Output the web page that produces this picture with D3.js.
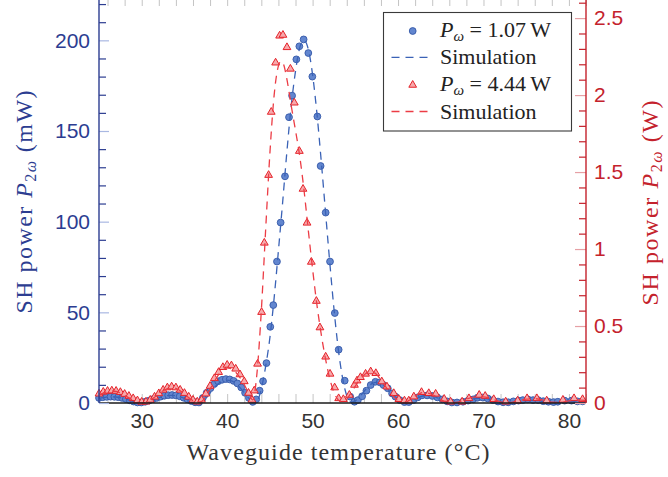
<!DOCTYPE html>
<html><head><meta charset="utf-8">
<script src="https://cdn.jsdelivr.net/npm/d3@7"></script>
<style>
html,body{margin:0;padding:0;background:#fff;}
svg{display:block;}
</style></head><body>
<svg id="chart" width="668" height="477"></svg>
<script>
// ---------- DATA ----------
// Measured SH power, P_omega = 1.07 W (left axis, mW)
const blueT = [25.0,25.45,25.9,26.35,26.8,27.25,27.7,28.15,28.6,29.05,29.5,29.95,30.4,30.85,31.3,31.75,32.2,32.65,33.1,33.55,34.0,34.45,34.9,35.35,35.8,36.25,36.7,37.15,37.6,38.05,38.5,38.95,39.4,39.85,40.3,40.75,41.2,41.65,42.1,42.55,43.0,43.4,43.8,44.2,44.6,45.05,45.4,45.83,46.26,46.77,47.24,47.6,48.1,48.45,48.95,49.5,49.97,50.56,50.94,51.53,52.04,52.6,53.05,53.76,54.4,54.9,55.3,55.8,56.3,56.8,57.35,57.86,58.3,58.8,59.3,59.7,60.2,60.75,61.26,61.8,62.3,62.8,63.4,64.0,64.6,65.2,65.75,66.3,66.9,67.6,68.2,68.8,69.3,69.9,70.5,71.1,71.7,72.3,72.9,73.5,74.1,74.6,75.2,75.8,76.4,77.0,77.6,78.2,78.7,79.5,80.3,81.0,81.6];
const blueP = [2.8,3.2,3.4,3.5,3.4,3.2,2.8,2.2,1.5,0.8,0.3,0.3,0.7,1.3,2.1,2.8,3.5,4.0,4.3,4.4,4.2,3.7,2.9,2.0,1.1,0.4,0.3,2.8,5.6,8.2,10.5,12.0,12.8,13.2,13.0,12.2,10.8,8.6,5.6,2.8,0.6,2.0,6.8,12.0,22.0,42.0,54.0,78.0,99.5,125.0,157.6,169.5,189.5,196.7,200.5,193.0,180.0,158.0,130.7,105.0,78.0,49.6,29.4,12.3,3.5,0.7,1.6,3.7,6.8,9.9,11.7,11.4,9.9,8.1,5.3,3.5,1.6,0.5,0.5,1.6,3.1,4.2,4.2,3.9,3.1,2.0,0.9,0.3,0.3,0.7,1.3,2.0,2.9,3.0,2.5,1.6,0.8,0.4,0.4,0.9,1.3,1.6,2.0,1.6,1.6,1.0,0.7,0.5,0.7,1.3,1.3,0.9,0.9];

// Measured SH power, P_omega = 4.44 W (right axis, W)
const redT = [25.0,25.5,26.0,26.5,27.0,27.5,28.0,28.5,29.0,29.5,30.0,30.5,31.0,31.5,32.0,32.5,33.0,33.5,34.0,34.5,35.0,35.5,36.0,36.5,37.0,37.5,38.0,38.5,39.0,39.5,40.0,40.5,41.0,41.5,42.0,42.5,42.9,43.17,43.56,44.03,44.35,44.85,45.16,45.67,46.14,46.53,47.0,47.4,47.86,48.45,48.88,49.35,49.85,50.44,50.86,51.53,52.04,52.58,53.05,53.6,54.3,54.9,55.2,55.6,56.2,56.8,57.4,58.1,58.7,59.5,60.1,60.75,61.26,61.85,62.75,63.6,64.4,65.4,66.15,67.5,68.3,69.5,70.2,71.2,72.6,74.0,75.1,76.25,77.4,79.3,80.6,81.6];
const redP = [0.06,0.072,0.078,0.08,0.078,0.07,0.058,0.045,0.03,0.016,0.007,0.008,0.02,0.04,0.062,0.085,0.1,0.106,0.1,0.085,0.064,0.04,0.02,0.008,0.02,0.06,0.11,0.16,0.2,0.232,0.247,0.243,0.222,0.185,0.14,0.065,0.02,0.08,0.254,0.59,1.04,1.48,1.89,2.21,2.385,2.39,2.31,2.17,1.95,1.636,1.39,1.17,0.916,0.662,0.49,0.30,0.189,0.10,0.03,0.024,0.052,0.117,0.145,0.167,0.189,0.204,0.193,0.139,0.106,0.063,0.024,0.015,0.015,0.041,0.07,0.063,0.059,0.026,0.008,0.008,0.03,0.052,0.045,0.024,0.008,0.015,0.03,0.03,0.015,0.02,0.03,0.024];

// Simulation, P_omega = 1.07 W (mW)
const simBlueT = [25,25.5,26,26.5,27,27.5,28,28.5,29,29.5,30,30.5,31,31.5,32,32.5,33,33.5,34,34.5,35,35.5,36,36.5,37,37.5,38,38.5,39,39.5,40,40.5,41,41.5,42,42.5,43,43.5,44,44.5,45,45.5,46,46.5,47,47.5,48,48.5,49,49.5,50,50.5,51,51.5,52,52.5,53,53.5,54,54.5,55,55.5,56,56.5,57,57.5,58,58.5,59,59.5,60,60.5,61,61.5,62,62.5,63,63.5,64,64.5,65,65.5,66,66.5,67,68,69,70,71,72,73,74,75,76,77,78,79,80,81,82];
const simBlueP = [2.5,3.0,3.3,3.4,3.3,2.9,2.3,1.6,0.9,0.3,0.05,0.3,1.0,1.9,2.8,3.6,4.1,4.2,4.0,3.4,2.6,1.6,0.7,0.1,0.5,2.5,5.5,8.5,10.8,12.2,12.6,12.2,10.8,8.5,5.6,2.8,0.7,1.2,8,20,36,58,84,111,139,164,183,196,200,195,181,160,134,106,78,52,30,14,4,0.5,1.2,3.5,6.3,9.0,10.8,11.4,10.8,9.0,6.6,4.2,2.1,0.6,0.2,0.8,2.0,3.2,4.0,4.2,3.9,3.1,2.1,1.1,0.4,0.1,0.2,1.2,2.4,2.6,1.7,0.6,0.2,0.9,1.6,1.5,0.9,0.3,0.5,1.0,1.1,0.8];

// Simulation, P_omega = 4.44 W (W)
const simRedT = [25,25.5,26,26.5,27,27.5,28,28.5,29,29.5,30,30.5,31,31.5,32,32.5,33,33.5,34,34.5,35,35.5,36,36.5,37,37.5,38,38.5,39,39.5,40,40.5,41,41.5,42,42.5,43,43.5,44,44.5,45,45.5,46,46.3,46.6,47,47.5,48,48.5,49,49.5,50,50.5,51,51.5,52,52.5,53,53.5,54,54.5,55,55.5,56,56.5,57,57.5,58,58.5,59,59.5,60,60.5,61,61.5,62,62.5,63,63.5,64,64.5,65,65.5,66,67,68,69,70,71,72,73,74,75,76,77,78,79,80,81,82];
const simRedP = [0.05,0.065,0.075,0.078,0.075,0.065,0.05,0.033,0.018,0.006,0.001,0.005,0.018,0.038,0.06,0.08,0.094,0.1,0.095,0.08,0.058,0.035,0.015,0.003,0.01,0.04,0.09,0.14,0.185,0.215,0.228,0.222,0.2,0.165,0.12,0.065,0.02,0.2,0.6,1.12,1.62,2.0,2.19,2.22,2.2,2.1,1.93,1.77,1.6,1.38,1.12,0.87,0.64,0.45,0.29,0.16,0.07,0.02,0.005,0.025,0.065,0.11,0.15,0.18,0.2,0.2,0.185,0.15,0.11,0.07,0.04,0.015,0.003,0.008,0.025,0.045,0.06,0.068,0.065,0.055,0.04,0.022,0.008,0.002,0.006,0.025,0.04,0.04,0.025,0.008,0.002,0.012,0.025,0.028,0.018,0.005,0.004,0.014,0.02,0.016];

// Tick labels
const xTickLabels = [30,40,50,60,70,80];
const yLTickLabels = [0,50,100,150,200];
const yRTickLabels = [0,0.5,1,1.5,2,2.5];
const legendLabels = ["1.07", "Simulation", "4.44", "Simulation"];

// ---------- STYLE ----------
const C = {
  blueFill:"#6286cf", blueStroke:"#3458a8", blueLine:"#3a62b6", blueAxis:"#2c3d91", blueLight:"#a9b8e2",
  redFill:"#f7a9ac", redStroke:"#e52229", redLine:"#ec3c45", redAxis:"#c4222c", redLight:"#e6a0a5",
  grey:"#c4c4c4", text:"#333333"
};
const sansF = "'Liberation Sans', Arial, sans-serif";
const serifF = "'Liberation Serif', 'Times New Roman', serif";

const svg = d3.select("#chart");
const x = d3.scaleLinear().domain([25,82]).range([99,586]);
const yL = d3.scaleLinear().domain([0,225]).range([403,-5]);
const yR = d3.scaleLinear().domain([0,2.65]).range([403,-5]);

svg.append("defs").append("clipPath").attr("id","clip")
  .append("rect").attr("x",99).attr("y",-10).attr("width",487).attr("height",430);

// grey x ticks (bottom, inward) and top ticks
const minorX = d3.range(26,83,2);
const gB = svg.append("g").attr("transform","translate(0,403)")
  .call(d3.axisBottom(x).tickValues(minorX).tickSize(-9).tickFormat(""));
gB.select(".domain").remove();
gB.selectAll("line").attr("stroke",C.grey).attr("stroke-width",1);
const gT = svg.append("g").attr("transform","translate(0,-3)")
  .call(d3.axisTop(x).tickValues(minorX).tickSize(-9).tickFormat(""));
gT.select(".domain").remove();
gT.selectAll("line").attr("stroke",C.grey).attr("stroke-width",1);

// data layer
const plot = svg.append("g");
// blue points
plot.append("g").selectAll("circle").data(blueT.map((t,i)=>[t,blueP[i]])).join("circle")
  .attr("cx",d=>x(d[0])).attr("cy",d=>yL(d[1])).attr("r",3.4)
  .attr("fill",C.blueFill).attr("stroke",C.blueStroke).attr("stroke-width",0.9);
// blue simulation
const lineB = d3.line().x(d=>x(d[0])).y(d=>yL(d[1])).curve(d3.curveMonotoneX);
plot.append("path").datum(simBlueT.map((t,i)=>[t,simBlueP[i]]))
  .attr("d",lineB).attr("fill","none").attr("stroke",C.blueLine)
  .attr("stroke-width",1.3).attr("stroke-dasharray","8,6").attr("clip-path","url(#clip)");
// red points
const tri = d3.symbol().type(d3.symbolTriangle).size(26);
plot.append("g").selectAll("path").data(redT.map((t,i)=>[t,redP[i]])).join("path")
  .attr("d",tri).attr("transform",d=>`translate(${x(d[0])},${yR(d[1])})`)
  .attr("fill",C.redFill).attr("stroke",C.redStroke).attr("stroke-width",1);
// red simulation
const lineR = d3.line().x(d=>x(d[0])).y(d=>yR(d[1])).curve(d3.curveMonotoneX);
plot.append("path").datum(simRedT.map((t,i)=>[t,simRedP[i]]))
  .attr("d",lineR).attr("fill","none").attr("stroke",C.redLine)
  .attr("stroke-width",1.3).attr("stroke-dasharray","8,6").attr("clip-path","url(#clip)");

// bottom axis line + labels
svg.append("line").attr("x1",99).attr("x2",586).attr("y1",403).attr("y2",403)
  .attr("stroke","#1a1a1a").attr("stroke-width",1.3);
const gXL = svg.append("g").attr("transform","translate(0,403)")
  .call(d3.axisBottom(x).tickValues(xTickLabels).tickSize(0).tickPadding(10));
gXL.select(".domain").remove();
gXL.selectAll("text").attr("font-family",sansF).attr("font-size",21).attr("fill",C.text);

// left axis
const minorL = d3.range(0,221,10);
const gLm = svg.append("g").attr("transform","translate(99,0)")
  .call(d3.axisRight(yL).tickValues(minorL.filter(v=>v%50!==0)).tickSize(7).tickFormat(""));
gLm.select(".domain").remove();
gLm.selectAll("line").attr("stroke",C.blueAxis).attr("stroke-width",1.2);
const gLM = svg.append("g").attr("transform","translate(99,0)")
  .call(d3.axisRight(yL).tickValues(yLTickLabels).tickSize(10).tickFormat(""));
gLM.select(".domain").remove();
gLM.selectAll("line").attr("stroke",C.blueLight).attr("stroke-width",1.2);
svg.append("line").attr("x1",99).attr("x2",99).attr("y1",-5).attr("y2",403)
  .attr("stroke",C.blueAxis).attr("stroke-width",1.4);
const gLL = svg.append("g").attr("transform","translate(99,0)")
  .call(d3.axisLeft(yL).tickValues(yLTickLabels).tickSize(0).tickPadding(9));
gLL.select(".domain").remove();
gLL.selectAll("text").attr("font-family",sansF).attr("font-size",21).attr("fill",C.blueAxis);

// right axis
const minorR = d3.range(0,27).map(v=>v/10);
const gRm = svg.append("g").attr("transform","translate(586,0)")
  .call(d3.axisLeft(yR).tickValues(minorR.filter(v=>Math.abs(v*2-Math.round(v*2))>1e-6)).tickSize(7).tickFormat(""));
gRm.select(".domain").remove();
gRm.selectAll("line").attr("stroke",C.redAxis).attr("stroke-width",1.2);
const gRM = svg.append("g").attr("transform","translate(586,0)")
  .call(d3.axisLeft(yR).tickValues(yRTickLabels).tickSize(11).tickFormat(""));
gRM.select(".domain").remove();
gRM.selectAll("line").attr("stroke",C.redLight).attr("stroke-width",1.2);
svg.append("line").attr("x1",586).attr("x2",586).attr("y1",-5).attr("y2",403)
  .attr("stroke",C.redAxis).attr("stroke-width",1.4);
const gRL = svg.append("g").attr("transform","translate(586,0)")
  .call(d3.axisRight(yR).tickValues(yRTickLabels).tickSize(0).tickPadding(8)
    .tickFormat(d=>String(d)));
gRL.select(".domain").remove();
gRL.selectAll("text").attr("font-family",sansF).attr("font-size",21).attr("fill",C.redAxis);

// axis titles
svg.append("text").attr("x",338).attr("y",460).attr("text-anchor","middle")
  .attr("font-family",serifF).attr("font-size",24).attr("fill",C.text)
  .attr("textLength",303).attr("lengthAdjust","spacing")
  .text("Waveguide temperature (°C)");

function yTitle(xp, yp, unit, color, len){
  const t = svg.append("text").attr("transform",`translate(${xp},${yp}) rotate(-90)`)
    .attr("text-anchor","middle").attr("font-family",serifF).attr("font-size",24).attr("fill",color)
    .attr("textLength",len).attr("lengthAdjust","spacing");
  t.append("tspan").text("SH power ");
  t.append("tspan").attr("font-style","italic").text("P");
  t.append("tspan").attr("font-size",16).attr("dy",4).text("2");
  t.append("tspan").attr("font-size",16).attr("font-style","italic").text("ω");
  t.append("tspan").attr("dy",-4).text(" (" + unit + ")");
}
yTitle(32, 202, "mW", C.blueAxis, 223);
yTitle(658, 203, "W", C.redAxis, 205);

// legend
const lg = svg.append("g");
lg.append("rect").attr("x",383.5).attr("y",12.5).attr("width",188).attr("height",118.5)
  .attr("fill","#fff").attr("stroke","#3a3a3a").attr("stroke-width",1.1);
const rows = [31,57.3,85,111.5];
lg.append("circle").attr("cx",412.7).attr("cy",rows[0]).attr("r",3.4)
  .attr("fill",C.blueFill).attr("stroke",C.blueStroke).attr("stroke-width",0.9);
lg.append("line").attr("x1",391.5).attr("x2",430).attr("y1",rows[1]).attr("y2",rows[1])
  .attr("stroke",C.blueLine).attr("stroke-width",1.3).attr("stroke-dasharray","8,6");
lg.append("path").attr("d",tri).attr("transform",`translate(412.7,${rows[2]})`)
  .attr("fill",C.redFill).attr("stroke",C.redStroke).attr("stroke-width",1);
lg.append("line").attr("x1",391.5).attr("x2",430).attr("y1",rows[3]).attr("y2",rows[3])
  .attr("stroke",C.redLine).attr("stroke-width",1.3).attr("stroke-dasharray","8,6");
function powerLabel(yb, val){
  const t = lg.append("text").attr("x",440).attr("y",yb).attr("font-family",serifF)
    .attr("font-size",22).attr("fill","#222");
  t.append("tspan").attr("font-style","italic").text("P");
  t.append("tspan").attr("font-style","italic").attr("font-size",15).attr("dy",4).text("ω");
  t.append("tspan").attr("dy",-4).text(" = " + val + "\u2009W");
}
powerLabel(36.5, legendLabels[0]);
lg.append("text").attr("x",440).attr("y",63.5).attr("font-family",serifF).attr("font-size",22)
  .attr("fill","#222").text(legendLabels[1]);
powerLabel(91, legendLabels[2]);
lg.append("text").attr("x",440).attr("y",118.5).attr("font-family",serifF).attr("font-size",22)
  .attr("fill","#222").text(legendLabels[3]);
</script></body></html>
